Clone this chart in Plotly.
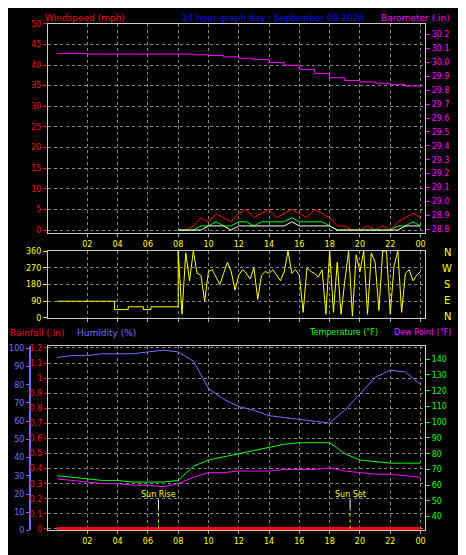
import plotly.graph_objects as go

W, H = 466, 555
def px_x(p): return p / W
def px_y(p): return 1 - p / H

hours = list(range(25))
baro = [30.065,30.065,30.06,30.06,30.06,30.06,30.06,30.06,30.06,30.055,30.05,30.04,30.03,30.02,30.0,29.98,29.95,29.92,29.89,29.87,29.86,29.85,29.84,29.83,29.82]
humidity = [95,96,96,97,97,97,98,99,98,93,78,72,68,66,63,62,61,60,59,66,75,84,88,87,80]
temperature = [66,65,64,63,63,62,62,62,63,72,76,78,80,82,84,86,87,87,87,80,76,75,74,74,74]
dewpoint = [64,63,62,61,61,60,60,59,61,65,68,68,69,69,69,70,70,70,71,69,68,67,67,66,65]
rainfall = [0.0]*25

half = [8 + i*0.5 for i in range(33)]
wind_gust = [0,0,1,3,2,4,3,2,4,5,3,4,5,3,4,5,4,3,5,4,3,1,1,0,0,1,0,1,0,2,3,4,3]
wind_avg  = [0,0,0,1,1,2,1,1,2,2,1,2,2,2,2,3,2,2,2,2,1,0,0,0,0,0,0,0,0,1,1,2,1]
wind_low  = [0,0,0,0,1,1,1,0,1,1,1,1,1,1,1,2,1,1,1,1,1,0,0,0,0,0,0,0,0,0,1,1,1]

dir_t = [0,3.8,3.8,4.7,4.7,5.7,5.7,6.2,6.2,8.0] + [8 + i*0.25 for i in range(65)]
dir_v = [90,90,45,45,60,60,45,45,60,60] + [360,20,350,200,360,240,230,90,250,260,220,180,240,300,250,150,230,260,240,210,270,100,230,250,240,260,230,200,250,360,240,260,230,30,270,250,240,220,260,20,360,30,300,20,200,360,10,340,250,360,20,350,300,40,360,360,20,280,360,30,240,260,200,230,250]

sun_rise, sun_set = 6.7, 19.35
xticks = [2,4,6,8,10,12,14,16,18,20,22,24]
xlabels = ["02","04","06","08","10","12","14","16","18","20","22","00"]

fig = go.Figure()
fig.add_trace(go.Scatter(x=half, y=wind_gust, xaxis="x", yaxis="y", line=dict(color="red", width=1)))
fig.add_trace(go.Scatter(x=half, y=wind_avg, xaxis="x", yaxis="y", line=dict(color="#00ff00", width=1)))
fig.add_trace(go.Scatter(x=half, y=wind_low, xaxis="x", yaxis="y", line=dict(color="white", width=1)))
fig.add_trace(go.Scatter(x=hours, y=baro, xaxis="x", yaxis="y2", line=dict(color="#ff00ff", width=1, shape="hv")))
fig.add_trace(go.Scatter(x=dir_t, y=dir_v, xaxis="x2", yaxis="y3", line=dict(color="yellow", width=1)))
fig.add_trace(go.Scatter(x=hours, y=humidity, xaxis="x3", yaxis="y4", line=dict(color="#7070ff", width=1)))
fig.add_trace(go.Scatter(x=hours, y=rainfall, xaxis="x3", yaxis="y5", line=dict(color="red", width=4)))
fig.add_trace(go.Scatter(x=hours, y=temperature, xaxis="x3", yaxis="y6", line=dict(color="#00ff00", width=1)))
fig.add_trace(go.Scatter(x=hours, y=dewpoint, xaxis="x3", yaxis="y6", line=dict(color="#ff00ff", width=1)))

xr = [-0.6, 24.3]
xd = [px_x(40), px_x(418)]
grid = dict(showgrid=True, gridcolor="#888888", griddash="dot", gridwidth=1, zeroline=False)
xcommon = dict(range=xr, domain=xd, tickvals=xticks, ticktext=xlabels, ticks="outside", ticklen=3,
               tickcolor="#aaaaaa", tickfont=dict(color="yellow", size=8), showline=True, linecolor="#cccccc",
               mirror=True, **grid)
font = "DejaVu Sans"
fs = 8
fig.update_layout(
    width=W, height=H, margin=dict(l=0, r=0, t=0, b=0), paper_bgcolor="black", plot_bgcolor="black",
    showlegend=False, font=dict(family=font, size=fs),
    xaxis=dict(anchor="y", **xcommon),
    xaxis2=dict(anchor="y3", **{**xcommon, "showticklabels": False}),
    xaxis3=dict(anchor="y5", **xcommon),
    yaxis=dict(domain=[px_y(225), px_y(12)], range=[-0.8, 50], dtick=5, tickfont=dict(color="red", size=fs),
               ticks="outside", tickcolor="red", ticklen=4, showline=True, linecolor="#cccccc", mirror=True, **grid),
    yaxis2=dict(overlaying="y", side="right", range=[28.77, 30.278], dtick=0.1, tickformat=".1f",
                tickfont=dict(color="#ff00ff", size=fs), ticks="outside", tickcolor="#ff00ff", ticklen=4, showgrid=False, zeroline=False),
    yaxis3=dict(domain=[px_y(311), px_y(243)], range=[0, 360], tickvals=[0,90,180,270,360], anchor="x2",
                tickfont=dict(color="yellow", size=fs), ticks="outside", tickcolor="yellow", ticklen=4,
                showline=True, linecolor="#cccccc", mirror=True, **grid),
    yaxis4=dict(domain=[px_y(527), px_y(340)], range=[0, 101], dtick=10, anchor="free", position=px_x(22),
                tickfont=dict(color="#7070ff", size=fs), ticks="outside", tickcolor="#7070ff", ticklen=3,
                showline=True, linecolor="#7070ff", linewidth=2, showgrid=False, zeroline=False, overlaying="y5"),
    yaxis5=dict(domain=[px_y(527), px_y(340)], range=[-0.01, 1.21], dtick=0.1, tickformat=".1~f", anchor="x3",
                tickfont=dict(color="red", size=fs), ticks="outside", tickcolor="red", ticklen=3,
                showline=True, linecolor="#cccccc", mirror=True, **grid),
    yaxis6=dict(overlaying="y5", side="right", anchor="x3", range=[31.25, 148.1], dtick=10,
                tickfont=dict(color="#00ff00", size=fs), ticks="outside", tickcolor="#00ff00", ticklen=4,
                showgrid=False, zeroline=False),
)

def txt(x, y, s, c, anchor="left", size=9):
    fig.add_annotation(x=x, y=y, xref="paper", yref="paper", text=s, showarrow=False,
                       font=dict(color=c, size=size, family=font), xanchor=anchor, yanchor="middle")

txt(px_x(35), px_y(6), "Windspeed (mph)", "red")
txt(px_x(172), px_y(6), "24 hour graph day : September 09 2026", "blue")
txt(px_x(372), px_y(6), "Barometer (.in)", "#ff00ff")
txt(px_x(0), px_y(326), "Rainfall (.in)", "red")
txt(px_x(67), px_y(326), "Humidity (%)", "#7070ff")
txt(px_x(300), px_y(326), "Temperature (°F)", "#00ff00", size=8)
txt(px_x(446), px_y(326), "Dew Point (°F)", "#ff00ff", "right", size=8)
for i, s in enumerate(["N", "W", "S", "E", "N"]):
    txt(px_x(440), px_y(244 + i * 16.5), s, "yellow", "center", 10)

for t, lab in [(sun_rise, "Sun Rise"), (sun_set, "Sun Set")]:
    fig.add_shape(type="line", xref="x3", yref="y4", x0=t, x1=t, y0=1, y1=12, line=dict(color="yellow", width=1, dash="dot"))
    fig.add_shape(type="line", xref="x3", yref="y4", x0=t, x1=t, y0=12, y1=17, line=dict(color="white", width=1))
    fig.add_annotation(x=t, y=20, xref="x3", yref="y4", text=lab, showarrow=False,
                       font=dict(color="yellow", size=8, family=font))

fig.write_html("out.html")
